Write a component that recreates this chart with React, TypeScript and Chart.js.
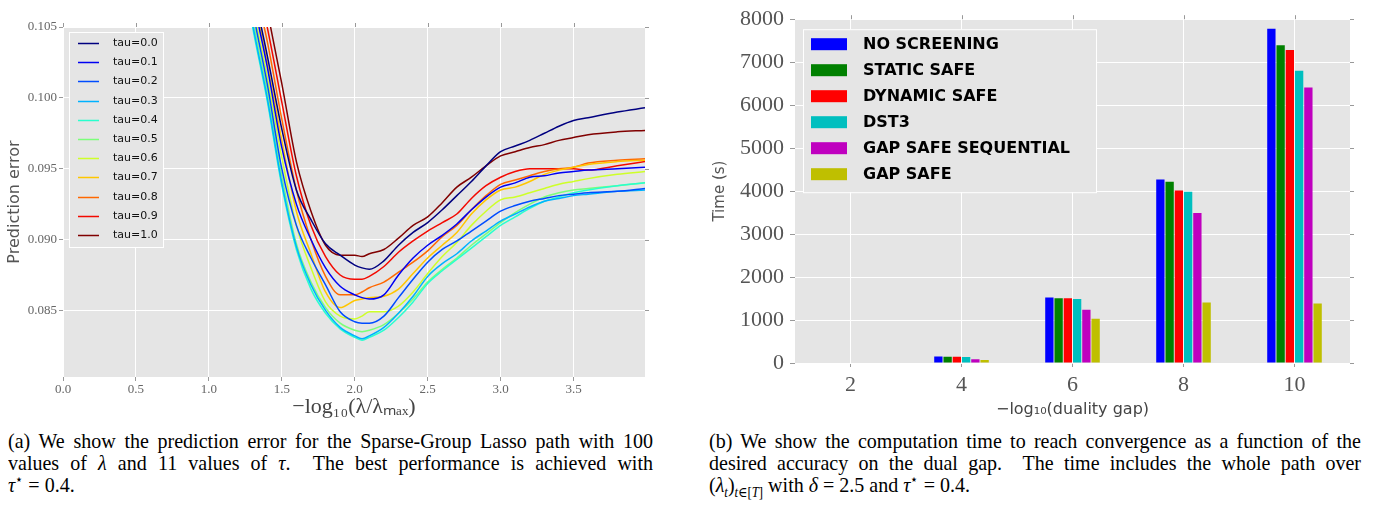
import React, { useEffect, useRef } from 'react';
import { Chart, registerables } from 'chart.js';
Chart.register(...registerables);

// ---------- Left panel data: prediction error vs -log10(lambda/lambda_max) ----------
const lambdaX = [1.2, 1.3, 1.4, 1.5, 1.6, 1.7, 1.8, 1.9, 2.0, 2.05, 2.1, 2.2, 2.3, 2.4, 2.5, 2.6, 2.7, 2.8, 2.9, 3.0, 3.1, 3.2, 3.3, 3.4, 3.5, 3.6, 3.8, 3.99];
const tauLabels = ['tau=0.0', 'tau=0.1', 'tau=0.2', 'tau=0.3', 'tau=0.4', 'tau=0.5', 'tau=0.6', 'tau=0.7', 'tau=0.8', 'tau=0.9', 'tau=1.0'];
const tauColors = ['#000080', '#0000F3', '#004CFF', '#00B2FF', '#29FFCE', '#7CFF7A', '#CEFF29', '#FFC600', '#FF6800', '#F30900', '#800000'];
const tau00 = [0.1140, 0.1080, 0.1030, 0.0978, 0.0935, 0.0914, 0.0897, 0.0889, 0.0882, 0.0880, 0.0879, 0.0885, 0.0896, 0.0905, 0.0912, 0.0921, 0.0931, 0.0941, 0.0952, 0.0962, 0.0966, 0.0970, 0.0975, 0.0980, 0.0984, 0.0986, 0.0990, 0.0993];
const tau01 = [0.1132, 0.1072, 0.1022, 0.0965, 0.0925, 0.0900, 0.0880, 0.0867, 0.0861, 0.0859, 0.0858, 0.0861, 0.0875, 0.0887, 0.0896, 0.0903, 0.0911, 0.0921, 0.0930, 0.0937, 0.0940, 0.0944, 0.0945, 0.0947, 0.0948, 0.0949, 0.0950, 0.0951];
const tau02 = [0.1122, 0.1062, 0.1010, 0.0950, 0.0910, 0.0887, 0.0868, 0.0849, 0.0842, 0.0841, 0.0841, 0.0846, 0.0859, 0.0872, 0.0884, 0.0893, 0.0899, 0.0906, 0.0913, 0.0920, 0.0924, 0.0927, 0.0929, 0.0931, 0.0932, 0.0933, 0.0934, 0.0936];
const tau03 = [0.1112, 0.1052, 0.1000, 0.0940, 0.0895, 0.0868, 0.0850, 0.0838, 0.0832, 0.0830, 0.0832, 0.0838, 0.0848, 0.0860, 0.0874, 0.0883, 0.0890, 0.0899, 0.0906, 0.0913, 0.0918, 0.0923, 0.0927, 0.0929, 0.0931, 0.0932, 0.0934, 0.0935];
const tau04 = [0.1110, 0.1050, 0.0998, 0.0938, 0.0893, 0.0865, 0.0848, 0.0837, 0.0831, 0.0829, 0.0831, 0.0836, 0.0845, 0.0856, 0.0869, 0.0878, 0.0886, 0.0894, 0.0902, 0.0910, 0.0916, 0.0922, 0.0927, 0.0930, 0.0933, 0.0935, 0.0938, 0.0940];
const tau05 = [0.1116, 0.1056, 0.1005, 0.0945, 0.0897, 0.0870, 0.0852, 0.0841, 0.0836, 0.0835, 0.0836, 0.0840, 0.0848, 0.0858, 0.0870, 0.0879, 0.0887, 0.0896, 0.0904, 0.0912, 0.0919, 0.0925, 0.0930, 0.0933, 0.0935, 0.0936, 0.0938, 0.0940];
const tau06 = [0.1126, 0.1066, 0.1015, 0.0958, 0.0910, 0.0880, 0.0856, 0.0846, 0.0844, 0.0846, 0.0849, 0.0849, 0.0853, 0.0863, 0.0876, 0.0888, 0.0898, 0.0910, 0.0920, 0.0928, 0.0930, 0.0933, 0.0936, 0.0939, 0.0941, 0.0943, 0.0946, 0.0948];
const tau07 = [0.1136, 0.1076, 0.1025, 0.0970, 0.0920, 0.0890, 0.0863, 0.0852, 0.0857, 0.0858, 0.0859, 0.0860, 0.0865, 0.0876, 0.0887, 0.0896, 0.0905, 0.0918, 0.0928, 0.0935, 0.0937, 0.0941, 0.0946, 0.0949, 0.0951, 0.0953, 0.0955, 0.0956];
const tau08 = [0.1146, 0.1086, 0.1040, 0.0985, 0.0935, 0.0900, 0.0874, 0.0861, 0.0861, 0.0863, 0.0866, 0.0870, 0.0877, 0.0884, 0.0892, 0.0902, 0.0910, 0.0921, 0.0931, 0.0939, 0.0942, 0.0945, 0.0948, 0.0950, 0.0951, 0.0954, 0.0956, 0.0957];
const tau09 = [0.1156, 0.1096, 0.1050, 0.0997, 0.0945, 0.0910, 0.0888, 0.0875, 0.0872, 0.0872, 0.0874, 0.0881, 0.0891, 0.0899, 0.0906, 0.0912, 0.0918, 0.0929, 0.0938, 0.0944, 0.0948, 0.0950, 0.0950, 0.0950, 0.0950, 0.0949, 0.0952, 0.0955];
const tau10 = [0.1170, 0.1110, 0.1062, 0.1010, 0.0955, 0.0920, 0.0896, 0.0889, 0.0889, 0.0888, 0.0890, 0.0893, 0.0901, 0.0910, 0.0916, 0.0926, 0.0937, 0.0944, 0.0952, 0.0959, 0.0962, 0.0965, 0.0967, 0.0970, 0.0972, 0.0974, 0.0976, 0.0977];
const tauSeries = [tau00, tau01, tau02, tau03, tau04, tau05, tau06, tau07, tau08, tau09, tau10];
const leftXTicks = [0.0, 0.5, 1.0, 1.5, 2.0, 2.5, 3.0, 3.5];
const leftYTicks = [0.085, 0.090, 0.095, 0.100, 0.105];

// ---------- Right panel data: computation time vs -log10(duality gap) ----------
const gapCategories = ['2', '4', '6', '8', '10'];
const noScreening = [0, 154, 1523, 4270, 7777];
const staticSafe = [0, 146, 1508, 4215, 7392];
const dynamicSafe = [0, 146, 1508, 4015, 7285];
const dst3 = [0, 138, 1492, 3985, 6800];
const gapSafeSequential = [0, 85, 1238, 3492, 6408];
const gapSafe = [0, 69, 1031, 1408, 1385];
const methodLabels = ['NO SCREENING', 'STATIC SAFE', 'DYNAMIC SAFE', 'DST3', 'GAP SAFE SEQUENTIAL', 'GAP SAFE'];
const methodColors = ['#0000FF', '#008000', '#FF0000', '#00BFBF', '#BF00BF', '#BFBF00'];
const methodSeries = [noScreening, staticSafe, dynamicSafe, dst3, gapSafeSequential, gapSafe];
const rightYTicks = [0, 1000, 2000, 3000, 4000, 5000, 6000, 7000, 8000];

const PLOT_BG = '#E5E5E5';

const plotBg = {
  id: 'plotBg',
  beforeDraw(chart: any) {
    const { ctx, chartArea: a } = chart;
    ctx.save();
    ctx.fillStyle = PLOT_BG;
    ctx.fillRect(a.left, a.top, a.right - a.left, a.bottom - a.top);
    ctx.restore();
  },
};

const mirrorTicks = {
  id: 'mirrorTicks',
  afterDraw(chart: any) {
    const { ctx, chartArea: a, scales } = chart;
    ctx.save();
    ctx.strokeStyle = '#999';
    ctx.lineWidth = 1;
    ctx.beginPath();
    scales.x.ticks.forEach((_t: any, i: number) => {
      const p = Math.round(scales.x.getPixelForTick(i)) + 0.5;
      ctx.moveTo(p, a.top);
      ctx.lineTo(p, a.top - 4);
    });
    scales.y.ticks.forEach((_t: any, i: number) => {
      const p = Math.round(scales.y.getPixelForTick(i)) + 0.5;
      ctx.moveTo(a.right, p);
      ctx.lineTo(a.right + 4, p);
    });
    ctx.stroke();
    ctx.restore();
  },
};

const tauLegend = {
  id: 'tauLegend',
  afterDatasetsDraw(chart: any) {
    const { ctx, chartArea: a } = chart;
    const x0 = a.left + 6, y0 = a.top + 5, w = 94, h = 215;
    ctx.save();
    ctx.fillStyle = PLOT_BG;
    ctx.fillRect(x0, y0, w, h);
    ctx.strokeStyle = '#ffffff';
    ctx.lineWidth = 1;
    ctx.strokeRect(x0 + 0.5, y0 + 0.5, w, h);
    ctx.font = '11px "DejaVu Sans"';
    ctx.textBaseline = 'middle';
    chart.data.datasets.forEach((ds: any, i: number) => {
      const y = Math.round(y0 + 11 + i * 19.2) + 0.5;
      ctx.strokeStyle = ds.borderColor;
      ctx.lineWidth = 1.5;
      ctx.beginPath();
      ctx.moveTo(x0 + 9, y);
      ctx.lineTo(x0 + 30, y);
      ctx.stroke();
      ctx.fillStyle = '#111';
      ctx.fillText(ds.label, x0 + 44, y);
    });
    ctx.restore();
  },
};

const methodLegend = {
  id: 'methodLegend',
  afterDatasetsDraw(chart: any) {
    const { ctx, chartArea: a } = chart;
    const x0 = a.left + 8, y0 = a.top + 10, w = 293, h = 163;
    ctx.save();
    ctx.fillStyle = PLOT_BG;
    ctx.fillRect(x0, y0, w, h);
    ctx.strokeStyle = '#ffffff';
    ctx.lineWidth = 1;
    ctx.strokeRect(x0 + 0.5, y0 + 0.5, w, h);
    ctx.font = 'bold 16px "DejaVu Sans"';
    ctx.textBaseline = 'middle';
    chart.data.datasets.forEach((ds: any, i: number) => {
      const y = y0 + 15 + i * 26;
      ctx.fillStyle = ds.backgroundColor;
      ctx.fillRect(x0 + 8, y - 6, 36, 12);
      ctx.fillStyle = '#000';
      ctx.fillText(ds.label, x0 + 60, y + 1);
    });
    ctx.restore();
  },
};

export default function App() {
  const leftRef = useRef<HTMLCanvasElement>(null);
  const rightRef = useRef<HTMLCanvasElement>(null);

  useEffect(() => {
    Chart.defaults.font.family = '"DejaVu Sans"';
    const tickFontL = { family: '"Liberation Serif"', size: 13 };
    const left = new Chart(leftRef.current as HTMLCanvasElement, {
      type: 'line',
      data: {
        datasets: tauSeries.map((s, k) => ({
          label: tauLabels[k],
          data: lambdaX.map((x, i) => ({ x, y: s[i] })),
          borderColor: tauColors[k],
          backgroundColor: tauColors[k],
          borderWidth: 1.5,
          pointRadius: 0,
          fill: false,
          cubicInterpolationMode: 'monotone' as const,
        })),
      },
      options: {
        animation: false,
        responsive: false,
        devicePixelRatio: 1,
        layout: { padding: { top: 27, right: 15, left: 0, bottom: 0 } },
        plugins: { legend: { display: false }, tooltip: { enabled: false } },
        scales: {
          x: {
            type: 'linear',
            min: 0,
            max: 3.99,
            afterBuildTicks: (ax: any) => { ax.ticks = leftXTicks.map((v) => ({ value: v })); },
            afterFit: (s: any) => { s.height = 43; },
            ticks: { callback: (v: any) => Number(v).toFixed(1), font: tickFontL, color: '#666', padding: 1, maxRotation: 0 },
            grid: { color: '#ffffff', lineWidth: 1, tickColor: '#999', tickLength: 4 },
            border: { display: false },
            title: { display: true, text: '−log₁₀(λ/λₘₐₓ)', font: { family: '"Liberation Serif"', size: 22 }, color: '#444', padding: { top: 0, bottom: 0 } },
          },
          y: {
            type: 'linear',
            min: 0.0803,
            max: 0.105,
            afterBuildTicks: (ax: any) => { ax.ticks = leftYTicks.map((v) => ({ value: v })); },
            afterFit: (s: any) => { s.width = 63; },
            ticks: { callback: (v: any) => Number(v).toFixed(3), font: tickFontL, color: '#666', padding: 2 },
            grid: { color: '#ffffff', lineWidth: 1, tickColor: '#999', tickLength: 4 },
            border: { display: false },
            title: { display: true, text: 'Prediction error', font: { size: 16 }, color: '#555', padding: { top: 5, bottom: 0 } },
          },
        },
      },
      plugins: [plotBg, mirrorTicks, tauLegend],
    } as any);

    const tickFontR = { family: '"Liberation Serif"', size: 22 };
    const right = new Chart(rightRef.current as HTMLCanvasElement, {
      type: 'bar',
      data: {
        labels: gapCategories,
        datasets: methodSeries.map((s, k) => ({
          label: methodLabels[k],
          data: s,
          backgroundColor: methodColors[k],
          borderWidth: 0,
          barPercentage: 0.9,
          categoryPercentage: 0.5,
        })),
      },
      options: {
        animation: false,
        responsive: false,
        devicePixelRatio: 1,
        layout: { padding: { top: 14, right: 28, left: 0, bottom: 0 } },
        plugins: { legend: { display: false }, tooltip: { enabled: false } },
        scales: {
          x: {
            type: 'category',
            offset: true,
            afterFit: (s: any) => { s.height = 57; },
            ticks: { font: tickFontR, color: '#555', padding: 5, maxRotation: 0 },
            grid: { offset: false, color: '#ffffff', lineWidth: 1, tickColor: '#999', tickLength: 4 },
            border: { display: false },
            title: { display: true, text: '−log₁₀(duality gap)', font: { size: 16 }, color: '#444', padding: { top: 0, bottom: 1 } },
          },
          y: {
            type: 'linear',
            min: 0,
            max: 8000,
            afterBuildTicks: (ax: any) => { ax.ticks = rightYTicks.map((v) => ({ value: v })); },
            afterFit: (s: any) => { s.width = 95; },
            ticks: { callback: (v: any) => String(v), font: tickFontR, color: '#555', padding: 6 },
            grid: { color: '#ffffff', lineWidth: 1, tickColor: '#999', tickLength: 5 },
            border: { display: false },
            title: { display: true, text: 'Time (s)', font: { size: 15 }, color: '#555', padding: { top: 11, bottom: 0 } },
          },
        },
      },
      plugins: [plotBg, mirrorTicks, methodLegend],
    } as any);

    return () => {
      left.destroy();
      right.destroy();
    };
  }, []);

  const SX = 0.91;
  const cap: React.CSSProperties = {
    position: 'absolute',
    top: 430,
    fontFamily: '"Liberation Serif", "DejaVu Serif", serif',
    fontSize: 22,
    lineHeight: '22px',
    color: '#000',
    transform: `scaleX(${SX})`,
    transformOrigin: '0 0',
  };
  const just: React.CSSProperties = { textAlign: 'justify', textAlignLast: 'justify', whiteSpace: 'nowrap' } as any;
  const small: React.CSSProperties = { fontSize: 14, lineHeight: 0 };

  return (
    <div style={{ position: 'absolute', left: 0, top: 0, width: 1378, height: 511, background: '#fff', overflow: 'hidden' }}>
      <canvas ref={leftRef} width={660} height={420} style={{ position: 'absolute', left: 0, top: 0 }} />
      <canvas ref={rightRef} width={678} height={420} style={{ position: 'absolute', left: 700, top: 0 }} />
      <div style={{ ...cap, left: 8, width: 645 / SX }}>
        <div style={just}>(a) We show the prediction error for the Sparse-Group Lasso path with 100</div>
        <div style={just}>values of <i>λ</i> and 11 values of <i>τ</i>. &nbsp;The best performance is achieved with</div>
        <div><i>τ</i><sup style={small}>⋆</sup> = 0.4.</div>
      </div>
      <div style={{ ...cap, left: 709, width: 652 / SX }}>
        <div style={just}>(b) We show the computation time to reach convergence as a function of the</div>
        <div style={just}>desired accuracy on the dual gap. &nbsp;The time includes the whole path over</div>
        <div>(<i>λ</i><sub style={small}><i>t</i></sub>)<sub style={small}><i>t</i>∈[<i>T</i>]</sub> with <i>δ</i> = 2.5 and <i>τ</i><sup style={small}>⋆</sup> = 0.4.</div>
      </div>
    </div>
  );
}
